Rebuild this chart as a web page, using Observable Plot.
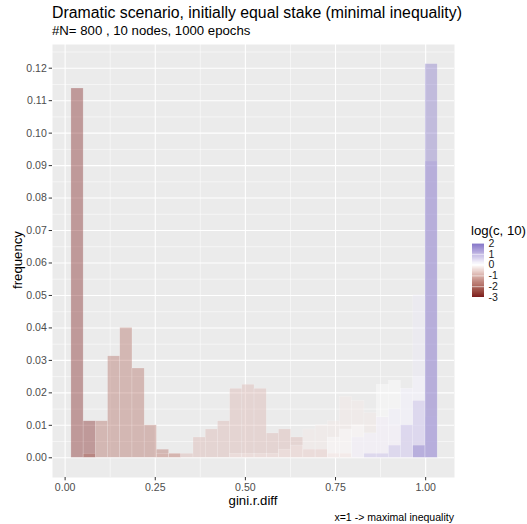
<!DOCTYPE html>
<html>
<head>
<meta charset="utf-8">
<script src="https://cdn.jsdelivr.net/npm/d3@7"></script>
<script src="https://cdn.jsdelivr.net/npm/@observablehq/plot@0.6"></script>
<style>
  html, body { margin: 0; padding: 0; background: #ffffff; }
  #chart { position: relative; width: 527px; height: 524px; font-family: "Liberation Sans", Arial, sans-serif; }
  #chart svg { position: absolute; overflow: visible; }
  .txt { position: absolute; white-space: nowrap; line-height: 1; color: #000; }
</style>
</head>
<body>
<div id="chart"></div>
<script>
// Histogram layout: 30 bins of equal width, runs per simulation set
const binStart = 0.0175;
const binWidth = 0.03386;
const totalRuns = 800;

// log10(c) of each simulation set
const logC = [-3, -2, -1, -0.3, 0, 0.3, 1, 2];

// Run counts per bin (30 bins) for each value of c
const counts_m3   = [91, 9, 0, 0, 0, 0, 0, 0, 0, 0, 0, 0, 0, 0, 0, 0, 0, 0, 0, 0, 0, 0, 0, 0, 0, 0, 0, 0, 0, 0];
const counts_m2   = [0, 1, 9, 25, 32, 22, 8, 2, 1, 0, 0, 0, 0, 0, 0, 0, 0, 0, 0, 0, 0, 0, 0, 0, 0, 0, 0, 0, 0, 0];
const counts_m1   = [0, 0, 0, 0, 0, 0, 0, 1, 1, 1, 5, 7, 9, 17, 18, 17, 6, 7, 5, 2, 2, 1, 1, 0, 0, 0, 0, 0, 0, 0];
const counts_m03  = [0, 0, 0, 0, 0, 0, 0, 0, 0, 0, 0, 0, 0, 1, 1, 1, 1, 2, 3, 7, 8, 9, 15, 14, 11, 10, 8, 5, 4, 0];
const counts_0    = [0, 0, 0, 0, 0, 0, 0, 0, 0, 0, 0, 0, 0, 0, 0, 0, 0, 0, 0, 0, 0, 5, 7, 8, 6, 18, 19, 17, 20, 0];
const counts_03   = [0, 0, 0, 0, 0, 0, 0, 0, 0, 0, 0, 0, 0, 0, 0, 0, 0, 0, 0, 0, 0, 0, 0, 5, 6, 10, 12, 17, 40, 10];
const counts_1    = [0, 0, 0, 0, 0, 0, 0, 0, 0, 0, 0, 0, 0, 0, 0, 0, 0, 0, 0, 0, 0, 0, 0, 0, 1, 1, 3, 8, 14, 73];
const counts_2    = [0, 0, 0, 0, 0, 0, 0, 0, 0, 0, 0, 0, 0, 0, 0, 0, 0, 0, 0, 0, 0, 0, 0, 0, 0, 0, 0, 0, 3, 97];
const countSets = [counts_m3, counts_m2, counts_m1, counts_m03, counts_0, counts_03, counts_1, counts_2];

// Axis ticks
const xTicks = [0, 0.25, 0.5, 0.75, 1];
const xMinor = [0.125, 0.375, 0.625, 0.875];
const yTicks = [0, 0.01, 0.02, 0.03, 0.04, 0.05, 0.06, 0.07, 0.08, 0.09, 0.10, 0.11, 0.12];
const yMinor = [0.005, 0.015, 0.025, 0.035, 0.045, 0.055, 0.065, 0.075, 0.085, 0.095, 0.105, 0.115, 0.125];
const legendTicks = [-3, -2, -1, 0, 1, 2];

// One rectangle per non-empty bin of each set
const bars = [];
countSets.forEach((arr, g) => {
  arr.forEach((n, i) => {
    if (n > 0) bars.push({
      logc: logC[g],
      x1: binStart + i * binWidth,
      x2: binStart + (i + 1) * binWidth,
      freq: n / totalRuns
    });
  });
});

const colorScale = {
  type: "linear",
  domain: [-3, 0, 2],
  range: ["#7d1d1d", "#ffffff", "#8273c6"],
  interpolate: d3.interpolateLab
};

const W = 527, H = 524;
const panel = {left: 52, right: 454, top: 44, bottom: 477};
const font = "Liberation Sans, Arial, sans-serif";

const main = Plot.plot({
  width: W,
  height: H,
  marginLeft: panel.left,
  marginRight: W - panel.right,
  marginTop: panel.top,
  marginBottom: H - panel.bottom,
  style: {fontFamily: font, fontSize: "10.56px", background: "transparent", overflow: "visible"},
  x: {domain: [-0.035, 1.08], axis: null},
  y: {domain: [-0.00607, 0.1273], axis: null},
  color: colorScale,
  marks: [
    Plot.frame({fill: "#ebebeb", stroke: null}),
    Plot.ruleY(yMinor, {stroke: "#ffffff", strokeWidth: 0.53}),
    Plot.ruleX(xMinor, {stroke: "#ffffff", strokeWidth: 0.53}),
    Plot.ruleY(yTicks, {stroke: "#ffffff", strokeWidth: 1.07}),
    Plot.ruleX(xTicks, {stroke: "#ffffff", strokeWidth: 1.07}),
    Plot.rect(bars, {
      x1: "x1", x2: "x2", y1: 0, y2: "freq",
      fill: "logc", fillOpacity: 0.4,
      stroke: "#ffffff", strokeOpacity: 0.35, strokeWidth: 0.5
    }),
    Plot.axisX(xTicks, {
      tickFormat: d3.format(".2f"), tickSize: 3.3, tickPadding: 2.2,
      stroke: "#333333", fill: "#4d4d4d", fontSize: 10.56, label: null
    }),
    Plot.axisY(yTicks, {
      tickFormat: d3.format(".2f"), tickSize: 3.3, tickPadding: 2.4,
      stroke: "#333333", fill: "#4d4d4d", fontSize: 10.56, label: null
    })
  ]
});
main.style.left = "0px";
main.style.top = "0px";

// Vertical colour bar for log(c, 10)
const legendValues = d3.range(-3, 2.0001, 0.05);
const legend = Plot.plot({
  width: 40,
  height: 54,
  marginLeft: 0,
  marginRight: 28,
  marginTop: 0,
  marginBottom: 0,
  style: {fontFamily: font, fontSize: "10.56px", background: "transparent", overflow: "visible"},
  x: {domain: [0, 1], axis: null},
  y: {domain: [-3, 2], axis: null},
  color: colorScale,
  marks: [
    Plot.rect(legendValues.slice(0, -1), {
      x1: 0, x2: 1,
      y1: d => d, y2: d => d + 0.05,
      fill: d => d + 0.025,
      shapeRendering: "crispEdges"
    }),
    Plot.tickY(legendTicks, {y: d => d, stroke: "#ffffff", strokeWidth: 0.6, inset: 0}),
    Plot.axisY(legendTicks, {
      anchor: "right", tickSize: 0, tickPadding: 4,
      tickFormat: d => String(d),
      fill: "#1a1a1a", fontSize: 10.56, label: null, textAnchor: "start"
    })
  ]
});
legend.style.left = "471.5px";
legend.style.top = "243px";

const root = document.getElementById("chart");
root.appendChild(main);
root.appendChild(legend);

function addText(str, opts) {
  const el = document.createElement("div");
  el.className = "txt";
  el.textContent = str;
  Object.assign(el.style, opts);
  root.appendChild(el);
  return el;
}

addText("Dramatic scenario, initially equal stake (minimal inequality)", {left: "52px", top: "4.5px", fontSize: "15.84px"});
addText("#N= 800 , 10 nodes, 1000 epochs", {left: "52px", top: "23.7px", fontSize: "13.2px"});
addText("gini.r.diff", {left: "253px", top: "493.5px", fontSize: "13.2px", transform: "translateX(-50%)"});
addText("x=1 -> maximal inequality", {left: "454px", top: "511.5px", fontSize: "10.56px", transform: "translateX(-100%)"});
addText("log(c, 10)", {left: "471px", top: "223.5px", fontSize: "13.2px"});
addText("frequency", {left: "18px", top: "260px", fontSize: "13.2px", transform: "translate(-50%, -50%) rotate(-90deg)"});
</script>
</body>
</html>
